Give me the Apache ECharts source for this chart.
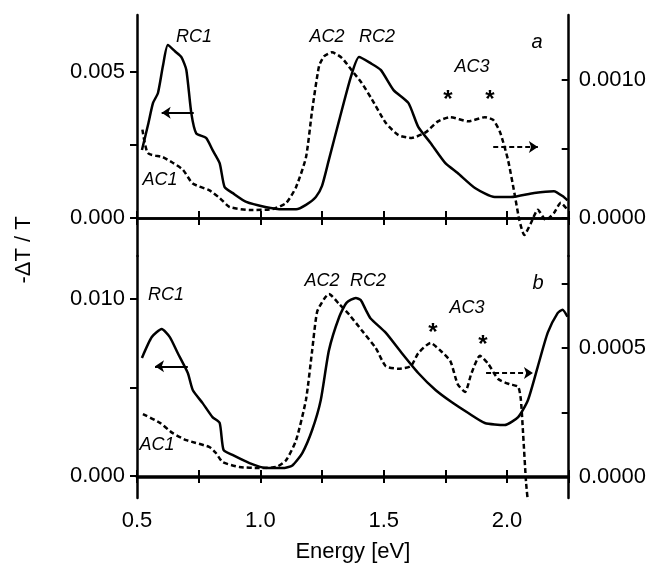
<!DOCTYPE html>
<html><head><meta charset="utf-8">
<script src="https://cdn.jsdelivr.net/npm/echarts@6/dist/echarts.min.js"></script>
<style>html,body{margin:0;padding:0;background:#fff}#c{width:649px;height:565px}</style>
</head><body><div id="c"></div><script>
// Panel a: solid (left axis) and dashed (right axis)
const aSolid = [[0.52,0.00233],[0.545,0.0032],[0.565,0.00394],[0.585,0.00428],[0.605,0.0052],[0.625,0.00592],[0.655,0.0057],[0.68,0.00551],[0.70,0.00507],[0.72,0.0036],[0.74,0.0029],[0.78,0.00274],[0.806,0.00233],[0.835,0.00188],[0.855,0.00106],[0.887,0.00086],[0.943,0.00055],[1.02,0.00038],[1.09,0.0003],[1.145,0.0003],[1.185,0.00045],[1.225,0.00072],[1.25,0.0011],[1.278,0.002],[1.32,0.00336],[1.367,0.00483],[1.40,0.00551],[1.447,0.0053],[1.488,0.00507],[1.54,0.00438],[1.60,0.00394],[1.64,0.00312],[1.69,0.00257],[1.75,0.00188],[1.80,0.00154],[1.87,0.00103],[1.95,0.00072],[2.016,0.00072],[2.11,0.00086],[2.19,0.00092],[2.23,0.00072],[2.245,0.0006]];
const aDashed = [[0.522,0.00064],[0.544,0.00047],[0.605,0.00044],[0.645,0.0004],[0.686,0.00035],[0.726,0.00025],[0.794,0.0002],[0.835,0.000145],[0.875,0.00008],[0.956,0.000058],[1.05,0.000065],[1.105,0.00011],[1.145,0.000225],[1.185,0.00044],[1.21,0.00078],[1.238,0.0011],[1.258,0.00117],[1.29,0.0012],[1.33,0.00116],[1.37,0.00107],[1.41,0.00098],[1.452,0.00086],[1.508,0.00069],[1.56,0.0006],[1.613,0.00058],[1.67,0.00062],[1.72,0.0007],[1.77,0.00073],[1.843,0.0007],[1.91,0.00073],[1.944,0.00071],[1.972,0.00062],[2.004,0.00042],[2.03,0.00018],[2.05,-0.000015],[2.07,-0.000123],[2.097,-0.000036],[2.125,0.00006],[2.157,-0.000015],[2.19,0.000036],[2.218,0.00011],[2.245,0.00006]];
// Panel b
const bSolid = [[0.52,0.00667],[0.56,0.00785],[0.60,0.0083],[0.633,0.00785],[0.665,0.00695],[0.706,0.00582],[0.726,0.00486],[0.766,0.00412],[0.806,0.00333],[0.835,0.003],[0.851,0.00147],[0.887,0.00119],[0.956,0.00073],[1.024,0.00045],[1.09,0.00045],[1.13,0.0006],[1.17,0.0013],[1.21,0.0026],[1.245,0.0043],[1.278,0.0071],[1.32,0.009],[1.35,0.0098],[1.387,0.01006],[1.407,0.00994],[1.427,0.0094],[1.447,0.0089],[1.508,0.0081],[1.573,0.00695],[1.64,0.00582],[1.71,0.00486],[1.775,0.00418],[1.843,0.00356],[1.91,0.003],[1.99,0.00288],[2.045,0.00333],[2.085,0.0043],[2.125,0.0062],[2.165,0.0081],[2.205,0.0092],[2.225,0.0094],[2.245,0.009]];
const bDashed = [[0.524,0.000244],[0.593,0.00021],[0.645,0.00017],[0.70,0.000143],[0.794,0.000116],[0.82,0.000093],[0.847,0.000058],[0.915,0.000039],[0.996,0.000035],[1.065,0.000039],[1.105,0.000066],[1.145,0.000143],[1.185,0.0003],[1.21,0.00049],[1.23,0.00064],[1.258,0.00069],[1.278,0.00071],[1.32,0.00067],[1.36,0.00063],[1.41,0.00057],[1.468,0.0005],[1.508,0.00043],[1.56,0.00042],[1.61,0.00043],[1.64,0.00048],[1.69,0.00052],[1.73,0.00049],[1.77,0.00045],[1.80,0.00036],[1.83,0.00033],[1.855,0.0004],[1.89,0.00047],[1.923,0.00044],[1.964,0.00038],[2.01,0.00036],[2.045,0.00035],[2.056,0.0003],[2.065,0.00017],[2.077,-0.00002],[2.085,-0.0001]];
// Tick values / labels
const xTickLabels = [0.5, 1.0, 1.5, 2.0];
const aLeftTicks = [0, 0.0025, 0.005], aLeftLabels = [0, 0.005];
const aRightTicks = [0, 0.0005, 0.001], aRightLabels = [0, 0.001];
const bLeftTicks = [0, 0.005, 0.01], bLeftLabels = [0, 0.01];
const bRightTicks = [0, 0.00025, 0.0005, 0.00075], bRightLabels = [0, 0.0005];
// Arrows [x0, x1, y]
const aSolidArrow = [0.73, 0.6, 0.0036];
const aDashedArrow = [1.944, 2.125, 0.000515];
const bSolidArrow = [0.706, 0.573, 0.0062];
const bDashedArrow = [1.915, 2.105, 0.000403];

const FONT = '"Liberation Sans", Arial, sans-serif';
const BLACK = '#000';
const FS = 22;
const axisLine = {show: true, lineStyle: {color: BLACK, width: 2.5}};

function xAx(grid, pos, labels, name) {
  return {
    type: 'value', gridIndex: grid, position: pos, min: 0.5, max: 2.25, interval: 0.25,
    axisLine: axisLine, splitLine: {show: false},
    axisTick: {show: true, inside: true, length: 7, lineStyle: {color: BLACK, width: 2}},
    axisLabel: labels ? {show: true, fontSize: FS, fontFamily: FONT, color: BLACK, margin: 12,
      formatter: v => xTickLabels.some(t => Math.abs(t - v) < 1e-6) ? v.toFixed(1) : ''} : {show: false},
    name: name || '', nameLocation: 'middle', nameGap: 43,
    nameTextStyle: {fontSize: FS, fontFamily: FONT, color: BLACK}
  };
}
function yAx(grid, pos, min, max, ticks, labels, dec, inside, margin) {
  return {
    type: 'value', gridIndex: grid, position: pos, min: min, max: max,
    axisLine: axisLine, splitLine: {show: false},
    axisTick: {show: true, inside: inside, length: 7, customValues: ticks, lineStyle: {color: BLACK, width: 2}},
    axisLabel: {show: true, customValues: labels, fontSize: FS, fontFamily: FONT, color: BLACK, margin: margin,
      formatter: v => v.toFixed(dec)}
  };
}
function arrow(a, dashed) {
  return {
    silent: true, symbol: ['none', 'arrow'], symbolSize: 9, animation: false,
    label: {show: false},
    lineStyle: {color: BLACK, width: 2, type: dashed ? [5, 3] : 'solid'},
    data: [[{coord: [a[0], a[2]]}, {coord: [a[1], a[2]]}]]
  };
}
function line(data, xi, yi, dashed, arr) {
  return {
    type: 'line', data: data, xAxisIndex: xi, yAxisIndex: yi, symbol: 'none', smooth: 0.2,
    lineStyle: {color: BLACK, width: 2.5, type: dashed ? [5, 3] : 'solid'},
    markLine: arrow(arr, dashed)
  };
}
const lbl = (t, x, y, size, extra) => ({type: 'text', x: x, y: y, silent: true,
  style: Object.assign({text: t, fill: BLACK, font: 'italic ' + (size || 18) + 'px ' + FONT,
    textAlign: 'center', textVerticalAlign: 'middle'}, extra || {})});
const star = (x, y) => ({type: 'text', x: x, y: y + 5, silent: true,
  style: {text: '*', fill: BLACK, font: 'bold 24px ' + FONT, textAlign: 'center', textVerticalAlign: 'middle'}});

const chart = echarts.init(document.getElementById('c'));
chart.setOption({
  animation: false,
  backgroundColor: '#fff',
  grid: [
    {left: 137, right: 79, top: 15, height: 241},
    {left: 137, right: 79, top: 256, height: 242}
  ],
  xAxis: [
    xAx(0, 'top', false), xAx(0, 'bottom', false),
    xAx(1, 'top', false), xAx(1, 'bottom', true, 'Energy [eV]')
  ],
  yAxis: [
    yAx(0, 'left', -0.0013, 0.00695, aLeftTicks, aLeftLabels, 3, false, 12),
    yAx(0, 'right', -0.000275, 0.00147, aRightTicks, aRightLabels, 4, true, 10),
    yAx(1, 'left', -0.00124, 0.01243, bLeftTicks, bLeftLabels, 3, false, 12),
    yAx(1, 'right', -0.0000814, 0.000857, bRightTicks, bRightLabels, 4, true, 10)
  ],
  series: [
    line(aSolid, 0, 0, false, aSolidArrow),
    line(aDashed, 0, 1, true, aDashedArrow),
    line(bSolid, 3, 2, false, bSolidArrow),
    line(bDashed, 3, 3, true, bDashedArrow)
  ],
  graphic: [
    {type: 'text', x: 24, y: 250, rotation: Math.PI / 2, silent: true,
      style: {text: '-ΔT / T', fill: BLACK, font: FS + 'px ' + FONT, textAlign: 'center', textVerticalAlign: 'middle'}},
    lbl('RC1', 194, 37), lbl('AC2', 327, 37), lbl('RC2', 377, 37), lbl('a', 537, 42, 20),
    lbl('AC3', 472, 67), star(448, 95), star(490, 95), lbl('AC1', 160, 180),
    lbl('RC1', 166, 295), lbl('AC2', 322, 281), lbl('RC2', 368, 281), lbl('b', 538, 283, 20),
    lbl('AC3', 467, 308), star(433, 328), star(483, 340), lbl('AC1', 157, 445)
  ]
});
</script></body></html>
